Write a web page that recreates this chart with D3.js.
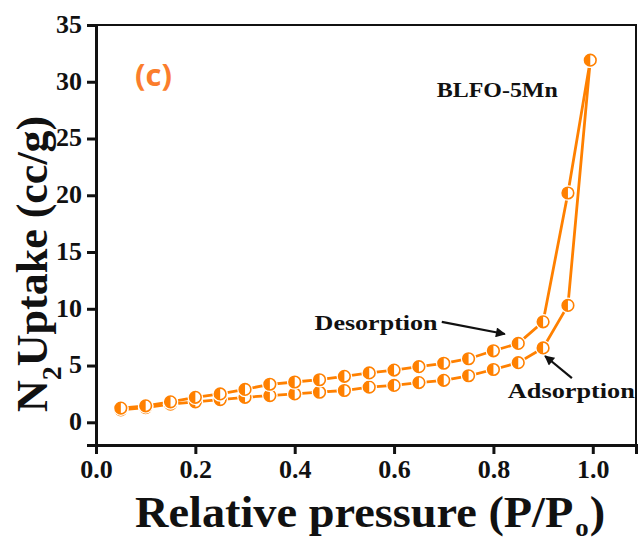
<!DOCTYPE html>
<html>
<head>
<meta charset="utf-8">
<script src="https://cdn.jsdelivr.net/npm/d3@7"></script>
<style>
  body { margin: 0; background: #fff; }
  .serif { font-family: "Liberation Serif", "Times New Roman", serif; font-weight: bold; fill: #111; }
</style>
</head>
<body>
<div id="chart"></div>
<script>
//data
var pressure = [0.05, 0.10, 0.15, 0.20, 0.25, 0.30, 0.35, 0.40, 0.45, 0.50,
                0.55, 0.60, 0.65, 0.70, 0.75, 0.80, 0.85, 0.90, 0.95, 0.995];
var adsorption = [1.1, 1.3, 1.6, 1.8, 2.0, 2.2, 2.35, 2.5, 2.65, 2.8,
                  3.1, 3.25, 3.5, 3.7, 4.1, 4.65, 5.25, 6.55, 10.3, 31.9];
var desorption = [1.25, 1.45, 1.8, 2.2, 2.5, 2.9, 3.35, 3.55, 3.75, 4.05,
                  4.35, 4.6, 4.9, 5.2, 5.6, 6.3, 6.95, 8.85, 20.2, 31.9];
var xTicks = [0.0, 0.2, 0.4, 0.6, 0.8, 1.0];
var yTicks = [0, 5, 10, 15, 20, 25, 30, 35];

//sizes
var outerW = 641,
    outerH = 544,
    margin = { left: 96, right: 5, top: 25, bottom: 99 };

var orange = '#ff8000';

var svg = d3.select('#chart').append('svg')
    .attr('width', outerW)
    .attr('height', outerH);

//scales
var xScale = d3.scaleLinear().domain([0, 1.087]).range([margin.left, outerW - margin.right]);
var yScale = d3.scaleLinear().domain([-2, 35]).range([outerH - margin.bottom, margin.top]);

var defs = svg.append('defs');
defs.append('marker')
    .attr('id', 'arrow')
    .attr('viewBox', '0 0 10 10')
    .attr('refX', 9).attr('refY', 5)
    .attr('markerWidth', 6).attr('markerHeight', 4.5)
    .attr('markerUnits', 'strokeWidth')
    .attr('orient', 'auto')
    .append('path')
    .attr('d', 'M0,0 L10,5 L0,10 Z')
    .attr('fill', '#111');

//frame
svg.append('rect')
    .attr('x', xScale(0)).attr('y', yScale(35))
    .attr('width', xScale(1.087) - xScale(0))
    .attr('height', yScale(-2) - yScale(35))
    .attr('fill', 'none')
    .attr('stroke', '#111')
    .attr('stroke-width', 2);

//axes
var xAxis = d3.axisBottom(xScale)
    .tickValues(xTicks)
    .tickSizeOuter(0)
    .tickSize(9)
    .tickFormat(d3.format('.1f'));

var xAxisG = svg.append('g')
    .attr('transform', 'translate(0,' + yScale(-2) + ')')
    .call(xAxis);

var yAxis = d3.axisLeft(yScale)
    .tickValues(yTicks)
    .tickSizeOuter(0)
    .tickSize(9);

var yAxisG = svg.append('g')
    .attr('transform', 'translate(' + xScale(0) + ',0)')
    .call(yAxis);

[xAxisG, yAxisG].forEach(function(g) {
    g.select('.domain').attr('stroke', '#111').attr('stroke-width', 3);
    g.selectAll('.tick line').attr('stroke', '#111').attr('stroke-width', 3);
    g.selectAll('.tick text')
        .attr('class', 'serif')
        .attr('font-size', 26)
        .attr('fill', '#111');
});
xAxisG.selectAll('.tick text').attr('dy', '0.9em').attr('y', 10);
yAxisG.selectAll('.tick text').attr('x', -14).attr('dy', '0.28em');

//series
var adsData = pressure.map(function(p, i) { return { p: p, v: adsorption[i] }; });
var desData = pressure.map(function(p, i) { return { p: p, v: desorption[i] }; });

var line = d3.line()
    .x(function(d) { return xScale(d.p); })
    .y(function(d) { return yScale(d.v); });

[desData, adsData].forEach(function(data) {
    svg.append('path')
        .datum(data)
        .attr('d', line)
        .attr('fill', 'none')
        .attr('stroke', orange)
        .attr('stroke-width', 2.8);
});

var r = 5.8;
function drawMarkers(data) {
    var g = svg.append('g');
    var m = g.selectAll('.dot')
        .data(data)
        .enter()
        .append('g')
        .attr('class', 'dot')
        .attr('transform', function(d) { return 'translate(' + xScale(d.p) + ',' + yScale(d.v) + ')'; });
    m.append('circle')
        .attr('r', r + 2)
        .attr('fill', '#fff');
    m.append('circle')
        .attr('r', r)
        .attr('fill', '#fff');
    m.append('path')
        .attr('d', 'M0,' + (-r) + ' A' + r + ',' + r + ' 0 0 0 0,' + r + ' Z')
        .attr('fill', orange);
    m.append('circle')
        .attr('r', r)
        .attr('fill', 'none')
        .attr('stroke', orange)
        .attr('stroke-width', 1.6);
}
drawMarkers(adsData);
drawMarkers(desData);

//labels
svg.append('text')
    .attr('x', xScale(0.0785)).attr('y', yScale(29.6))
    .attr('font-family', '"Open Sans", "Noto Sans", sans-serif')
    .attr('font-weight', 'bold')
    .attr('font-size', 31)
    .attr('fill', '#fb7d2c')
    .text('(c)');

svg.append('text')
    .attr('class', 'serif')
    .attr('x', xScale(0.686)).attr('y', yScale(28.7))
    .attr('font-size', 22)
    .attr('textLength', 121)
    .attr('lengthAdjust', 'spacingAndGlyphs')
    .text('BLFO-5Mn');

svg.append('text')
    .attr('class', 'serif')
    .attr('x', xScale(0.44)).attr('y', yScale(8.14))
    .attr('font-size', 22)
    .attr('textLength', 123)
    .attr('lengthAdjust', 'spacingAndGlyphs')
    .text('Desorption');

svg.append('text')
    .attr('class', 'serif')
    .attr('x', xScale(0.829)).attr('y', yScale(2.15))
    .attr('font-size', 22)
    .attr('textLength', 127)
    .attr('lengthAdjust', 'spacingAndGlyphs')
    .text('Adsorption');

//arrows
svg.append('line')
    .attr('x1', xScale(0.696)).attr('y1', yScale(8.84))
    .attr('x2', xScale(0.823)).attr('y2', yScale(7.78))
    .attr('stroke', '#111').attr('stroke-width', 2.2)
    .attr('marker-end', 'url(#arrow)');

svg.append('line')
    .attr('x1', xScale(0.958)).attr('y1', yScale(3.9))
    .attr('x2', xScale(0.904)).attr('y2', yScale(5.84))
    .attr('stroke', '#111').attr('stroke-width', 2.2)
    .attr('marker-end', 'url(#arrow)');

//axis titles
var xTitle = svg.append('text')
    .attr('class', 'serif')
    .attr('transform', 'translate(135,527) scale(1.03,1)')
    .attr('font-size', 45);
xTitle.append('tspan').text('Relative pressure (P/P');
xTitle.append('tspan').attr('font-size', 26).attr('dx', 2).attr('dy', 9).text('o');
xTitle.append('tspan').attr('dx', 1).attr('dy', -9).text(')');

var yTitle = svg.append('text')
    .attr('class', 'serif')
    .attr('transform', 'translate(47,412) rotate(-90)')
    .attr('font-size', 44);
yTitle.append('tspan').text('N');
yTitle.append('tspan').attr('font-size', 28).attr('dy', 14).text('2');
yTitle.append('tspan').attr('dy', -14).text('Uptake (cc/g)');
</script>
</body>
</html>
